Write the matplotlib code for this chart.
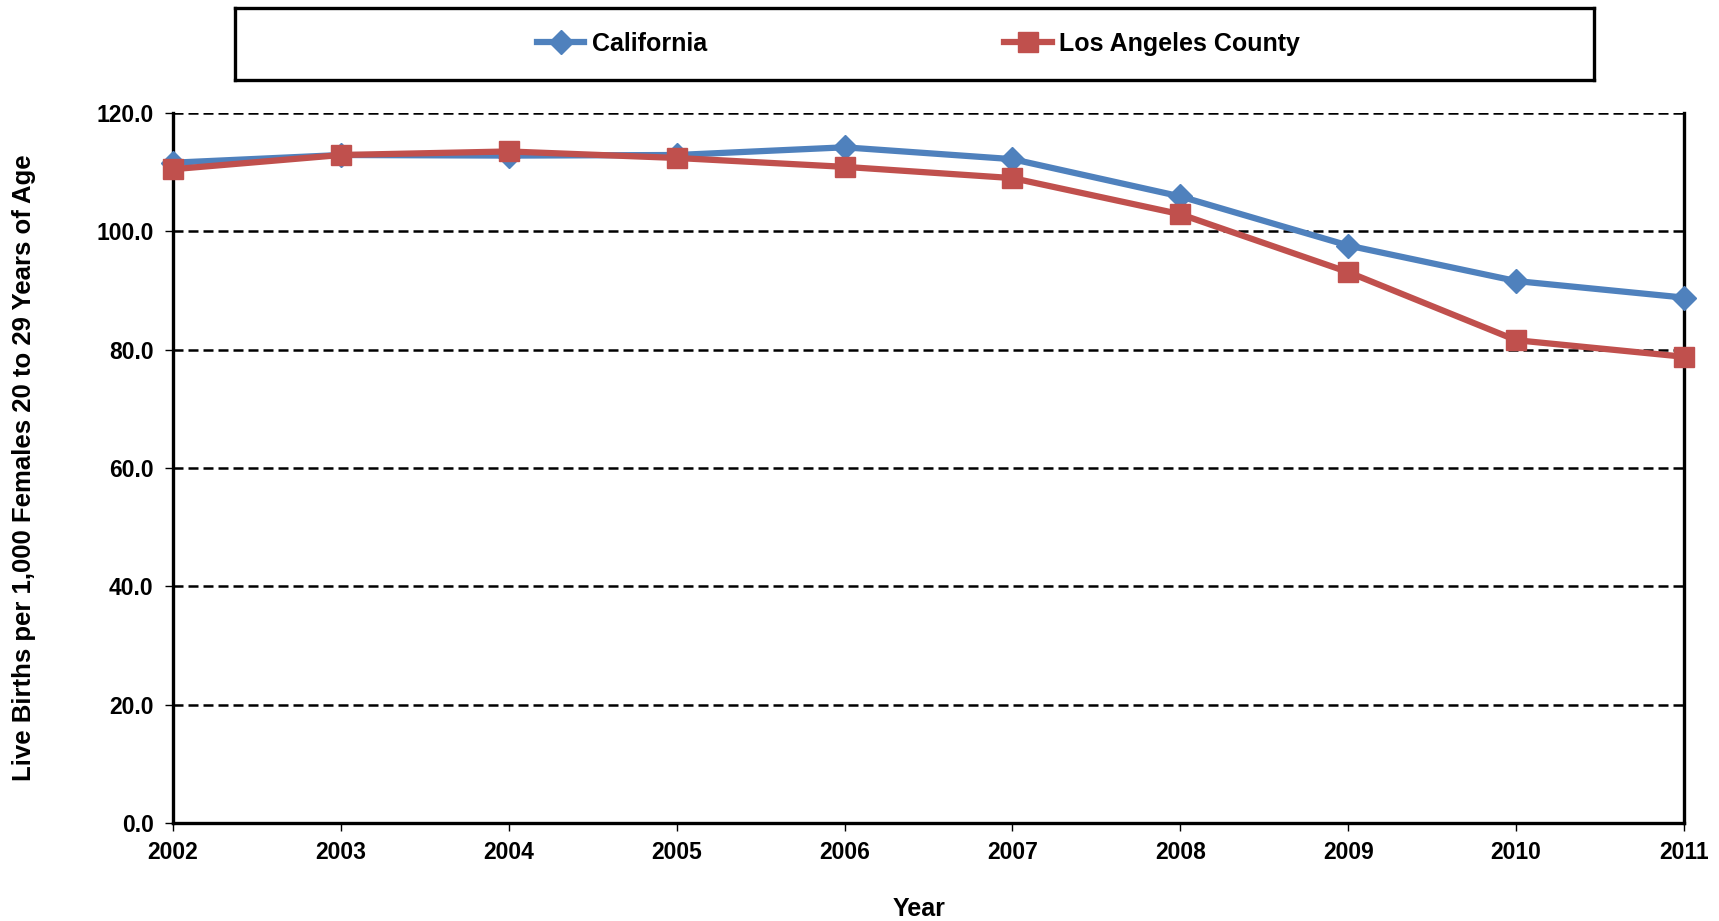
import matplotlib
matplotlib.use("Agg")
import matplotlib.pyplot as plt

years = [2002, 2003, 2004, 2005, 2006, 2007, 2008, 2009, 2010, 2011]
california = [111.6, 112.9, 112.8, 112.9, 114.2, 112.2, 105.9, 97.6, 91.6, 88.8]
los_angeles = [110.5, 112.9, 113.5, 112.4, 110.9, 109.0, 102.9, 93.1, 81.6, 78.8]
y_ticks = [0, 20, 40, 60, 80, 100, 120]

plt.rcParams['font.family'] = ['Liberation Sans', 'DejaVu Sans']
plt.rcParams['font.weight'] = 'bold'

fig = plt.figure(figsize=(17.19, 9.21), dpi=100)
ax = fig.add_axes([173/1719, 1-823/921, (1684-173)/1719, (823-113)/921])

blue = '#4F81BD'
red = '#C0504D'
l1, = ax.plot(years, california, color=blue, lw=4.5, marker='D', markersize=12, label='California', zorder=4, clip_on=False)
l2, = ax.plot(years, los_angeles, color=red, lw=4.5, marker='s', markersize=14, label='Los Angeles County', zorder=5, clip_on=False)

ax.set_xlim(2002, 2011)
ax.set_ylim(0, 120)
ax.set_yticks(y_ticks)
ax.set_yticklabels([f"{v:.1f}" for v in y_ticks])
ax.set_xticks(years)
ax.set_xticklabels([str(y) for y in years])
for y in y_ticks[1:]:
    ax.axhline(y, color='black', lw=1.8, ls=(0, (4, 2)), zorder=1)

for s in ['left', 'bottom', 'right']:
    ax.spines[s].set_linewidth(2.4)
    ax.spines[s].set_color('black')
ax.spines['top'].set_visible(False)
ax.tick_params(axis='both', direction='out', length=6, width=1, labelsize=16.5, colors='black')
ax.tick_params(axis='x', pad=7)
ax.tick_params(axis='y', pad=8)
for lab in ax.get_xticklabels() + ax.get_yticklabels():
    lab.set_fontweight('bold')

fig.text((173 + 0.494*1511)/1719, 0, 'Year', fontsize=18, fontweight='bold', ha='center', va='bottom')
fig.text(24/1719, 1-468/921, 'Live Births per 1,000 Females 20 to 29 Years of Age', fontsize=18.5,
         fontweight='bold', rotation=90, ha='center', va='center')

# legend box
lax = fig.add_axes([235/1719, 1-80/921, (1594-235)/1719, 72/921])
lax.set_xticks([])
lax.set_yticks([])
for s in lax.spines.values():
    s.set_linewidth(2.4)
    s.set_color('black')
leg = lax.legend(handles=[l1, l2], loc='center', ncol=2, frameon=False,
                 fontsize=18, handlelength=1.9, handletextpad=0.3, columnspacing=11.9,
                 bbox_to_anchor=(0.503, 0.5))
for t in leg.get_texts():
    t.set_fontweight('bold')

fig.savefig('out.png', dpi=100)
